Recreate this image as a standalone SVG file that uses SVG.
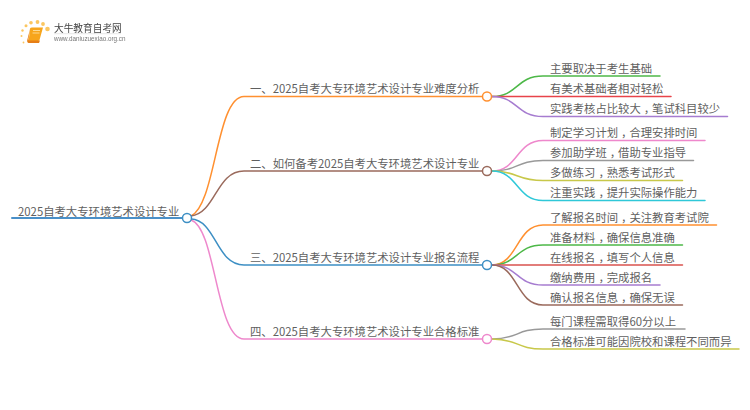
<svg xmlns="http://www.w3.org/2000/svg" width="750" height="410" viewBox="0 0 750 410">
<style>
text{font-family:"Noto Sans CJK SC","Liberation Sans",sans-serif;font-size:11.35px;fill:#5f5f5f}
.c{fill:none;stroke-width:1.5;stroke-linecap:round}
.n{fill:#fff;stroke-width:1.5}
.d{fill:#fbc660}
</style>
<defs><filter id="soft" x="-5%" y="-5%" width="110%" height="110%"><feGaussianBlur stdDeviation="0.35"/></filter></defs>
<rect width="750" height="410" fill="#fff"/>
<g id="logo" filter="url(#soft)">
<circle class="d" cx="47.500" cy="29" r="2.300"/><circle class="d" cx="43" cy="24" r="1.900"/><circle class="d" cx="37.500" cy="22" r="1.900"/><circle class="d" cx="31" cy="22.800" r="1.800"/><circle class="d" cx="26" cy="25.800" r="1.500"/><circle class="d" cx="22.500" cy="30.500" r="1.200"/><circle class="d" cx="21.500" cy="36" r="1"/><circle class="d" cx="23.500" cy="42.500" r=".9"/>
<path d="M30 28.500Q30.500 27.500 32 27.500H43L39.500 40Q39 41 38 41H30Q28 41.500 29 38Z" fill="#f7a51c"/>
<path d="M27.500 39Q26.500 42.500 28.500 43H39L40 40.500H30Q28.500 41 28.500 39L30 29Z" fill="#e67e14"/>
<path d="M33 30.500H40M32.500 33H39.500" stroke="#fde0a0" stroke-width=".9"/>
<text x="54" y="31.500" style="font-size:9.700px;fill:#444">大牛教育自考网</text>
<path d="M54 33.700H121" stroke="#ddd" stroke-width=".7"/>
<text x="54" y="41" style="font-family:'Liberation Sans',sans-serif;font-size:6.300px;fill:#777">www.daniuzuexiao.org.cn</text>
</g>
<g id="connectors">
<path class="c" stroke="#4a90c8" d="M12 218H182" style="stroke-width:2"/>
<path class="c" stroke="#ff9030" d="M191 216C216 205 216 96.500 244 96.500H482"/>
<path class="c" stroke="#9a6a5c" d="M191 216C216 213 216 171 244 171H482"/>
<path class="c" stroke="#3d8fc4" d="M191 219C216 220 216 265 244 265H482"/>
<path class="c" stroke="#ee88cc" d="M191 220C216 228 216 339 244 339H482"/>
<path class="c" stroke="#4db848" d="M492 96.500C518 96.500 516 76 543 76H660"/>
<path class="c" stroke="#e8434a" d="M492 96.500H671"/>
<path class="c" stroke="#a67cd0" d="M492 96.500C518 96.500 516 116.500 543 116.500H727.500"/>
<path class="c" stroke="#ee88cc" d="M492 171C518 171 516 140.500 543 140.500H705"/>
<path class="c" stroke="#999" d="M492 171C518 171 516 160.500 543 160.500H693.500"/>
<path class="c" stroke="#c8c84a" d="M492 171C518 171 516 180.500 543 180.500H682.500"/>
<path class="c" stroke="#2fc8d8" d="M492 171C518 171 516 200.500 543 200.500H705"/>
<path class="c" stroke="#ff9030" d="M492 265C518 265 516 225 543 225H716.500"/>
<path class="c" stroke="#4db848" d="M492 265C518 265 516 245 543 245H682.500"/>
<path class="c" stroke="#d9534f" d="M492 265H682.500"/>
<path class="c" stroke="#a67cd0" d="M492 265C518 265 516 285 543 285H660"/>
<path class="c" stroke="#9a6a5c" d="M492 265C518 265 516 305 543 305H682.500"/>
<path class="c" stroke="#999" d="M492 339C518 339 516 329 543 329H685"/>
<path class="c" stroke="#c8c84a" d="M492 339C518 339 516 349 543 349H739"/>
</g>
<g id="root"><text x="18" y="215.500">2025自考大专环境艺术设计专业</text><circle class="n" stroke="#3d8fc4" cx="187" cy="218" r="4.500"/></g>
<g id="b1"><text x="250" y="93">一、2025自考大专环境艺术设计专业难度分析</text><circle class="n" stroke="#ff9030" cx="487" cy="96.500" r="4.500"/></g>
<g id="b2"><text x="250" y="167.500">二、如何备考2025自考大专环境艺术设计专业</text><circle class="n" stroke="#9a6a5c" cx="487" cy="171" r="4.500"/></g>
<g id="b3"><text x="250" y="261.500">三、2025自考大专环境艺术设计专业报名流程</text><circle class="n" stroke="#3d8fc4" cx="487" cy="265" r="4.500"/></g>
<g id="b4"><text x="250" y="335.500">四、2025自考大专环境艺术设计专业合格标准</text><circle class="n" stroke="#ee88cc" cx="487" cy="339" r="4.500"/></g>
<g id="l11"><text x="550" y="73">主要取决于考生基础</text></g>
<g id="l12"><text x="550" y="93">有美术基础者相对轻松</text></g>
<g id="l13"><text x="550" y="113" dx="0 0 0 0 0 0 0 0 3 -3">实践考核占比较大，笔试科目较少</text></g>
<g id="l21"><text x="550" y="137" dx="0 0 0 0 0 0 3 -3">制定学习计划，合理安排时间</text></g>
<g id="l22"><text x="550" y="157" dx="0 0 0 0 0 3 -3">参加助学班，借助专业指导</text></g>
<g id="l23"><text x="550" y="177" dx="0 0 0 0 3 -3">多做练习，熟悉考试形式</text></g>
<g id="l24"><text x="550" y="197" dx="0 0 0 0 3 -3">注重实践，提升实际操作能力</text></g>
<g id="l31"><text x="550" y="222" dx="0 0 0 0 0 0 3 -3">了解报名时间，关注教育考试院</text></g>
<g id="l32"><text x="550" y="242" dx="0 0 0 0 3 -3">准备材料，确保信息准确</text></g>
<g id="l33"><text x="550" y="262" dx="0 0 0 0 3 -3">在线报名，填写个人信息</text></g>
<g id="l34"><text x="550" y="282" dx="0 0 0 0 3 -3">缴纳费用，完成报名</text></g>
<g id="l35"><text x="550" y="302" dx="0 0 0 0 0 0 3 -3">确认报名信息，确保无误</text></g>
<g id="l41"><text x="550" y="326">每门课程需取得60分以上</text></g>
<g id="l42"><text x="550" y="346">合格标准可能因院校和课程不同而异</text></g>
</svg>
